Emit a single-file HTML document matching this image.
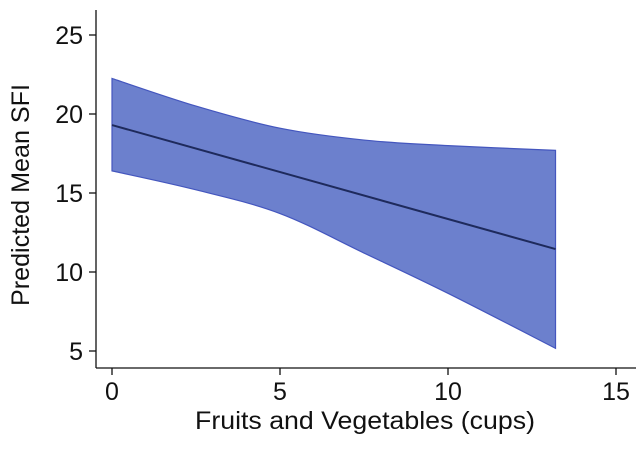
<!DOCTYPE html>
<html><head><meta charset="utf-8"><style>
html,body{margin:0;padding:0;background:#fff;}
svg text{font-family:"Liberation Sans",sans-serif;fill:#111;}
</style></head><body>
<svg id="chart" width="642" height="447" viewBox="0 0 642 447" xmlns="http://www.w3.org/2000/svg">
<g id="plot"></g>
</svg>
<script>
const xs=[0,2.5,5,7.5,10,13.2];
const upper=[22.25,20.5,19.1,18.35,18.0,17.7];
const lower=[16.4,15.2,13.7,11.2,8.65,5.17];
const fitX=[0,13.2];
const fitY=[19.3,11.45];
const xTicks=[0,5,10,15];
const yTicks=[5,10,15,20,25];
const NS="http://www.w3.org/2000/svg";
const sx=v=>112+v*33.6;
const sy=v=>351-(v-5)*15.8;
const g=document.getElementById('plot');
function mk(t,a){const e=document.createElementNS(NS,t);for(const k in a)e.setAttribute(k,a[k]);g.appendChild(e);return e;}
function smooth(px,py){let d='';for(let i=0;i<px.length-1;i++){const p0=i?i-1:i,p3=i+2<px.length?i+2:i+1;
const c1x=px[i]+(px[i+1]-px[p0])/6,c1y=py[i]+(py[i+1]-py[p0])/6,c2x=px[i+1]-(px[p3]-px[i])/6,c2y=py[i+1]-(py[p3]-py[i])/6;
d+=` C${c1x},${c1y} ${c2x},${c2y} ${px[i+1]},${py[i+1]}`;}return d;}
const ux=xs.map(sx),uy=upper.map(sy),lx=xs.map(sx).reverse(),ly=lower.map(sy).reverse();
let d=`M${ux[0]},${uy[0]}`+smooth(ux,uy)+` L${lx[0]},${ly[0]}`+smooth(lx,ly)+' Z';
const band=mk('path',{d:d,fill:'#6c80cd',stroke:'#4456be','stroke-width':1.2});


const ln=mk('line',{x1:sx(fitX[0]),y1:sy(fitY[0]),x2:sx(fitX[1]),y2:sy(fitY[1]),stroke:'#1e2a5c','stroke-width':2});


const ya=mk('line',{x1:96,y1:10,x2:96,y2:368,stroke:'#111','stroke-width':1.3});


const xa=mk('line',{x1:96,y1:368,x2:636,y2:368,stroke:'#111','stroke-width':1.3});


yTicks.forEach(v=>{
 const t=mk('line',{x1:89,x2:96,y1:sy(v),y2:sy(v),stroke:'#111','stroke-width':1.3});
 
 
 const l=mk('text',{x:83,y:sy(v)+9,'text-anchor':'end','font-size':25});l.textContent=v;
 
 
});
xTicks.forEach(v=>{
 const t=mk('line',{x1:sx(v),x2:sx(v),y1:368,y2:375,stroke:'#111','stroke-width':1.3});
 
 
 const l=mk('text',{x:sx(v),y:400,'text-anchor':'middle','font-size':25});l.textContent=v;
 
 
});
const xt=mk('text',{x:195,y:429,'font-size':25,textLength:340,lengthAdjust:'spacingAndGlyphs'});xt.textContent='Fruits and Vegetables (cups)';


const yt=mk('text',{x:0,y:0,'font-size':25,textLength:222,lengthAdjust:'spacingAndGlyphs',transform:'translate(29,306) rotate(-90)'});yt.textContent='Predicted Mean SFI';


</script>
</body></html>
